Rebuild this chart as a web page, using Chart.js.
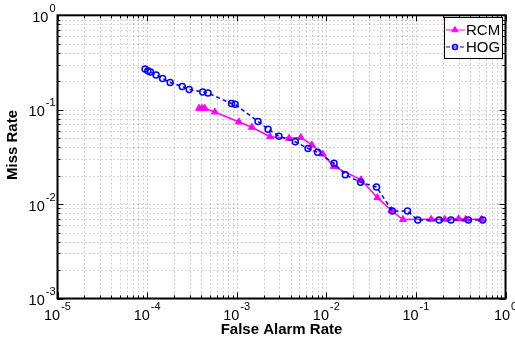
<!DOCTYPE html>
<html>
<head>
<meta charset="utf-8">
<script src="https://cdn.jsdelivr.net/npm/chart.js@4.4.1/dist/chart.umd.min.js"></script>
<style>html,body{margin:0;padding:0;background:#fff}</style>
</head>
<body>
<canvas id="det-chart" width="515" height="340"></canvas>
<script>
// DET curves, values
const rcmFalseAlarm = [3.8e-4, 4.1e-4, 4.4e-4, 5.7e-4, 1.06e-3, 1.48e-3, 2.36e-3, 3.84e-3, 5.2e-3, 6.9e-3, 9.1e-3, 0.0121, 0.0244, 0.0372, 0.0534, 0.0718, 0.148, 0.21, 0.30, 0.36, 0.54];
const rcmMissRate   = [0.1035, 0.1035, 0.1035, 0.0946, 0.0741, 0.0651, 0.0518, 0.0498, 0.0508, 0.0423, 0.0340, 0.0251, 0.0181, 0.0117, 0.00855, 0.00687, 0.0069, 0.0069, 0.0070, 0.0069, 0.0069];
const hogFalseAlarm = [9.5e-5, 1.02e-4, 1.09e-4, 1.26e-4, 1.49e-4, 1.81e-4, 2.47e-4, 2.95e-4, 4.18e-4, 4.79e-4, 8.75e-4, 9.6e-4, 1.73e-3, 2.24e-3, 2.96e-3, 4.51e-3, 6.25e-3, 7.98e-3, 0.0122, 0.0163, 0.0241, 0.0363, 0.0546, 0.0805, 0.105, 0.182, 0.246, 0.385, 0.557];
const hogMissRate   = [0.270, 0.259, 0.251, 0.233, 0.214, 0.194, 0.176, 0.164, 0.154, 0.150, 0.116, 0.114, 0.0750, 0.0621, 0.0524, 0.0457, 0.0388, 0.0354, 0.0271, 0.0205, 0.0170, 0.0152, 0.00845, 0.00845, 0.00678, 0.00678, 0.00678, 0.00678, 0.00678];
const xDecades = [-5, -4, -3, -2, -1, 0];
const yDecades = [-3, -2, -1, 0];

const FONT = '"Liberation Sans", Arial, sans-serif';

function gridValues(decades) {
    let vals = [];
    for (let i = 0; i < decades.length - 1; i++) {
        for (let k = 1; k <= 9; k++) vals.push(k * Math.pow(10, decades[i]));
    }
    vals.push(Math.pow(10, decades[decades.length - 1]));
    return vals;
}

function powerLabel(ctx, exp, x, y, align) {
    ctx.font = '14.5px ' + FONT;
    const wb = ctx.measureText('10').width;
    ctx.font = '11px ' + FONT;
    const we = ctx.measureText(String(exp)).width;
    let left = align === 'center' ? x - (wb + we + 1) / 2 : x - (wb + we + 1);
    ctx.fillStyle = '#000';
    ctx.textAlign = 'left';
    ctx.textBaseline = 'alphabetic';
    ctx.font = '14.5px ' + FONT;
    ctx.fillText('10', left, y);
    ctx.font = '11px ' + FONT;
    ctx.fillText(String(exp), left + wb + 1, y - 10);
}

const matlabAxes = {
    id: 'matlabAxes',
    beforeDatasetsDraw(chart) {
        const {ctx, chartArea: a, scales: {x, y}} = chart;
        ctx.save();
        ctx.strokeStyle = 'rgba(0,0,0,0.32)';
        ctx.lineWidth = 1;
        ctx.setLineDash([1, 3]);
        gridValues(xDecades).forEach(v => {
            const px = Math.round(x.getPixelForValue(v)) + 0.5;
            ctx.beginPath(); ctx.moveTo(px, a.top); ctx.lineTo(px, a.bottom); ctx.stroke();
        });
        gridValues(yDecades).forEach(v => {
            const py = Math.round(y.getPixelForValue(v)) + 0.5;
            ctx.beginPath(); ctx.moveTo(a.left, py); ctx.lineTo(a.right, py); ctx.stroke();
        });
        ctx.restore();
    },
    afterDatasetsDraw(chart) {
        const {ctx, chartArea: a, scales: {x, y}} = chart;
        ctx.save();
        ctx.setLineDash([]);
        ctx.strokeStyle = '#000';
        ctx.lineWidth = 1;
        // inner tick marks
        gridValues(xDecades).forEach(v => {
            const px = Math.round(x.getPixelForValue(v)) + 0.5;
            const len = Number.isInteger(Math.log10(v)) ? 6 : 3;
            ctx.beginPath();
            ctx.moveTo(px, a.bottom); ctx.lineTo(px, a.bottom - len);
            ctx.moveTo(px, a.top); ctx.lineTo(px, a.top + len);
            ctx.stroke();
        });
        gridValues(yDecades).forEach(v => {
            const py = Math.round(y.getPixelForValue(v)) + 0.5;
            const len = Number.isInteger(Math.log10(v)) ? 6 : 3;
            ctx.beginPath();
            ctx.moveTo(a.left, py); ctx.lineTo(a.left + len, py);
            ctx.moveTo(a.right, py); ctx.lineTo(a.right - len, py);
            ctx.stroke();
        });
        // frame
        ctx.lineWidth = 2;
        ctx.strokeRect(a.left, a.top, a.right - a.left, a.bottom - a.top);

        // tick labels
        xDecades.forEach(d => powerLabel(ctx, d, x.getPixelForValue(Math.pow(10, d)), a.bottom + 21.5, 'center'));
        yDecades.forEach(d => powerLabel(ctx, d, a.left - 2, y.getPixelForValue(Math.pow(10, d)) + 6.5, 'right'));

        // axis titles
        ctx.fillStyle = '#000';
        ctx.font = 'bold 15px ' + FONT;
        ctx.textAlign = 'center';
        ctx.textBaseline = 'middle';
        ctx.fillText('False Alarm Rate', (a.left + a.right) / 2, 330);
        ctx.save();
        ctx.translate(13, 145);
        ctx.rotate(-Math.PI / 2);
        ctx.fillText('Miss Rate', 0, 0);
        ctx.restore();

        // legend
        const bx = 444, by = 17, bw = 58, bh = 41;
        ctx.fillStyle = '#fff';
        ctx.fillRect(bx, by, bw, bh);
        ctx.lineWidth = 1;
        ctx.strokeStyle = '#000';
        ctx.strokeRect(bx + 0.5, by + 0.5, bw, bh);
        chart.data.datasets.slice().sort((p, q) => p.legendRow - q.legendRow).forEach((ds, i) => {
            const ly = by + 13 + i * 17;
            ctx.strokeStyle = ds.borderColor;
            ctx.lineWidth = 1;
            ctx.setLineDash(ds.borderDash || []);
            ctx.beginPath(); ctx.moveTo(bx + 2, ly); ctx.lineTo(bx + 21, ly); ctx.stroke();
            ctx.setLineDash([]);
            ctx.fillStyle = ds.pointBackgroundColor;
            ctx.strokeStyle = ds.borderColor;
            ctx.lineWidth = ds.pointBorderWidth;
            Chart.helpers.drawPoint(ctx, {
                pointStyle: ds.pointStyle, radius: ds.pointRadius - 0.5, borderWidth: ds.pointBorderWidth
            }, bx + 11, ly);
            ctx.fillStyle = '#000';
            ctx.font = '15px ' + FONT;
            ctx.textAlign = 'left';
            ctx.textBaseline = 'middle';
            ctx.fillText(ds.label, bx + 22, ly + 1);
        });
        ctx.restore();
    }
};

const toPoints = (xs, ys) => xs.map((v, i) => ({x: v, y: ys[i]}));

new Chart(document.getElementById('det-chart').getContext('2d'), {
    type: 'line',
    data: {
        datasets: [{
            label: 'RCM',
            legendRow: 0,
            data: toPoints(rcmFalseAlarm, rcmMissRate),
            borderColor: '#ff00ff',
            backgroundColor: '#ff00ff',
            pointBackgroundColor: '#ff00ff',
            borderWidth: 1.5,
            pointStyle: 'triangle',
            pointRadius: 4,
            pointBorderWidth: 1,
            order: 1
        }, {
            label: 'HOG',
            legendRow: 1,
            data: toPoints(hogFalseAlarm, hogMissRate),
            borderColor: '#0000ff',
            backgroundColor: 'rgba(0,0,0,0)',
            pointBackgroundColor: 'rgba(0,0,0,0)',
            borderWidth: 1.5,
            borderDash: [4, 3],
            pointStyle: 'circle',
            pointRadius: 3,
            pointBorderWidth: 1.5,
            order: 0
        }]
    },
    options: {
        responsive: false,
        animation: false,
        events: [],
        layout: {padding: {left: 57.5, right: 9.5, top: 15.3, bottom: 41.5}},
        plugins: {legend: {display: false}, tooltip: {enabled: false}},
        scales: {
            x: {type: 'logarithmic', min: 1e-5, max: 1, display: false},
            y: {type: 'logarithmic', min: 1e-3, max: 1, display: false}
        }
    },
    plugins: [matlabAxes]
});
</script>
</body>
</html>
